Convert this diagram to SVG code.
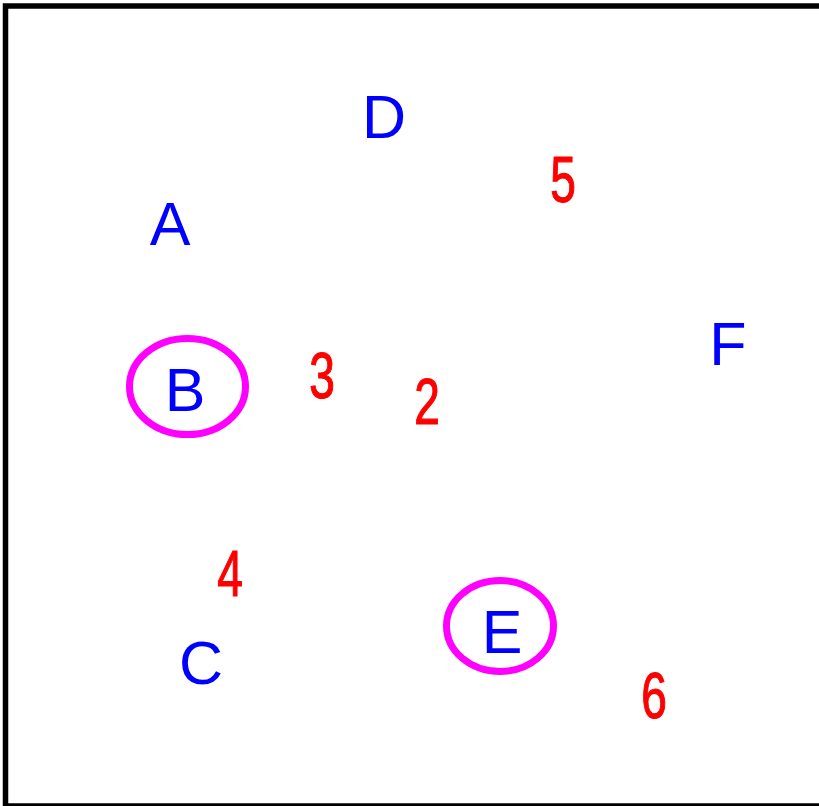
<svg xmlns="http://www.w3.org/2000/svg" width="819" height="806" viewBox="0 0 819 806">
<style>
.lbl{font-family:"Liberation Sans",Arial,sans-serif;font-size:61px;fill:#0000ff;text-anchor:middle}
.num{font-family:"Liberation Sans",Arial,sans-serif;font-size:64px;fill:#ff0000;stroke:#ff0000;stroke-width:1.2;text-anchor:middle}
.ring{fill:none;stroke:#ff00ff;stroke-width:7}
</style>
<rect x="0" y="0" width="819" height="806" fill="#ffffff"/>
<rect x="5.5" y="6" width="900" height="800" fill="none" stroke="#000000" stroke-width="5.5"/>
<g id="connectors"></g>
<g id="node-A"><text class="lbl" x="170" y="245">A</text></g>
<g id="node-D"><text class="lbl" x="384" y="138">D</text></g>
<g id="node-F"><text class="lbl" x="728" y="365">F</text></g>
<g id="node-B"><ellipse class="ring" cx="187.5" cy="386.5" rx="58" ry="48"/><text class="lbl" x="185" y="411">B</text></g>
<g id="node-C"><text class="lbl" x="201" y="684">C</text></g>
<g id="node-E"><ellipse class="ring" cx="500" cy="626" rx="53.5" ry="45.5"/><text class="lbl" x="502" y="653">E</text></g>
<g id="num-3"><text class="num" transform="translate(322,398) scale(0.72,1)">3</text></g>
<g id="num-2"><text class="num" transform="translate(427,424) scale(0.72,1)">2</text></g>
<g id="num-5"><text class="num" transform="translate(563,202) scale(0.72,1)">5</text></g>
<g id="num-4"><text class="num" transform="translate(230,596) scale(0.72,1)">4</text></g>
<g id="num-6"><text class="num" transform="translate(654,718) scale(0.72,1)">6</text></g>
</svg>
